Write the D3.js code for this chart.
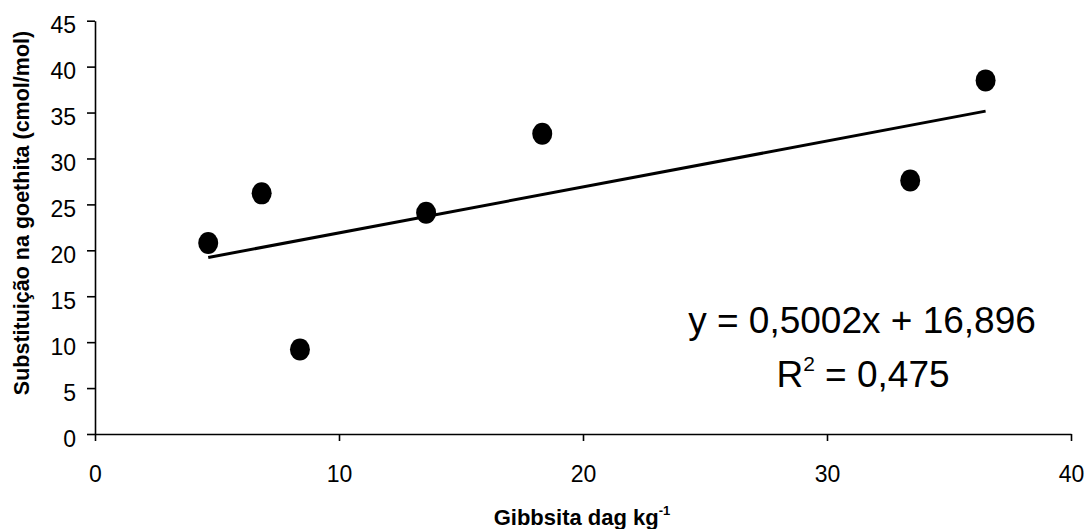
<!DOCTYPE html>
<html>
<head>
<meta charset="utf-8">
<script src="https://cdn.jsdelivr.net/npm/d3@7/dist/d3.min.js"></script>
<style>
  html, body { margin: 0; padding: 0; background: #fff; }
  svg { display: block; }
  text { font-family: Arial, "Liberation Sans", sans-serif; fill: #000; }
</style>
</head>
<body>
<svg id="chart" width="1088" height="529"></svg>
<script>
// Data
const gibbsita = [4.64, 6.83, 8.40, 13.57, 18.33, 33.41, 36.50];
const substituicao = [20.8, 26.2, 9.2, 24.1, 32.7, 27.6, 38.5];
const xTicks = [0, 10, 20, 30, 40];
const yTicks = [0, 5, 10, 15, 20, 25, 30, 35, 40, 45];
const slope = 0.5002;
const intercept = 16.896;
const eqLabel = "y = 0,5002x + 16,896";
const r2Label = "0,475";

const svg = d3.select("#chart");
const x = d3.scaleLinear().domain([0, 40]).range([95, 1071]);
const y = d3.scaleLinear().domain([0, 45]).range([434, 20.7]);

// Axes
const xAxis = d3.axisBottom(x).tickValues(xTicks).tickSize(7).tickSizeOuter(0).tickFormat(d3.format("d"));
const yAxis = d3.axisLeft(y).tickValues(yTicks).tickSize(8).tickSizeOuter(0).tickFormat(d3.format("d"));

const gx = svg.append("g").attr("transform", `translate(0,${y(0)})`).call(xAxis);
const gy = svg.append("g").attr("transform", `translate(${x(0)},0)`).call(yAxis);

[gx, gy].forEach(g => {
  g.select(".domain").attr("stroke", "#000").attr("stroke-width", 1.6);
  g.selectAll(".tick line").attr("stroke", "#000").attr("stroke-width", 1.6);
  g.selectAll(".tick text").attr("font-size", 23).attr("fill", "#000")
    .style("font-family", "Arial, 'Liberation Sans', sans-serif");
});
gx.selectAll(".tick text").attr("y", 0).attr("dy", 0).attr("transform", "translate(0,48)");
gy.selectAll(".tick text").attr("x", -19).attr("dy", 12);

// Regression line across the data range
const xmin = d3.min(gibbsita), xmax = d3.max(gibbsita);
const line = d3.line().x(d => x(d)).y(d => y(slope * d + intercept));
svg.append("path")
  .datum([xmin, xmax])
  .attr("d", line)
  .attr("fill", "none")
  .attr("stroke", "#000")
  .attr("stroke-width", 3);

// Points
svg.append("g").selectAll("ellipse")
  .data(gibbsita.map((g, i) => [g, substituicao[i]]))
  .join("ellipse")
  .attr("cx", d => x(d[0]))
  .attr("cy", d => y(d[1]))
  .attr("rx", 10)
  .attr("ry", 11)
  .attr("fill", "#000");

// Axis titles
const xt = svg.append("text")
  .attr("x", 582).attr("y", 525)
  .attr("text-anchor", "middle")
  .attr("font-size", 22).attr("font-weight", "bold");
xt.append("tspan").text("Gibbsita dag kg");
xt.append("tspan").attr("font-size", 13).attr("dy", -10).text("-1");

svg.append("text")
  .attr("transform", "translate(29,213) rotate(-90)")
  .attr("text-anchor", "middle")
  .attr("font-size", 21.5).attr("font-weight", "bold")
  .text("Substituição na goethita (cmol/mol)");

// Equation
svg.append("text")
  .attr("x", 862).attr("y", 333)
  .attr("text-anchor", "middle")
  .attr("font-size", 37)
  .text(eqLabel);
const r2 = svg.append("text")
  .attr("x", 863).attr("y", 387)
  .attr("text-anchor", "middle")
  .attr("font-size", 37);
r2.append("tspan").text("R");
r2.append("tspan").attr("font-size", 21).attr("dy", -16).text("2");
r2.append("tspan").attr("dy", 16).text(" = " + r2Label);
</script>
</body>
</html>
